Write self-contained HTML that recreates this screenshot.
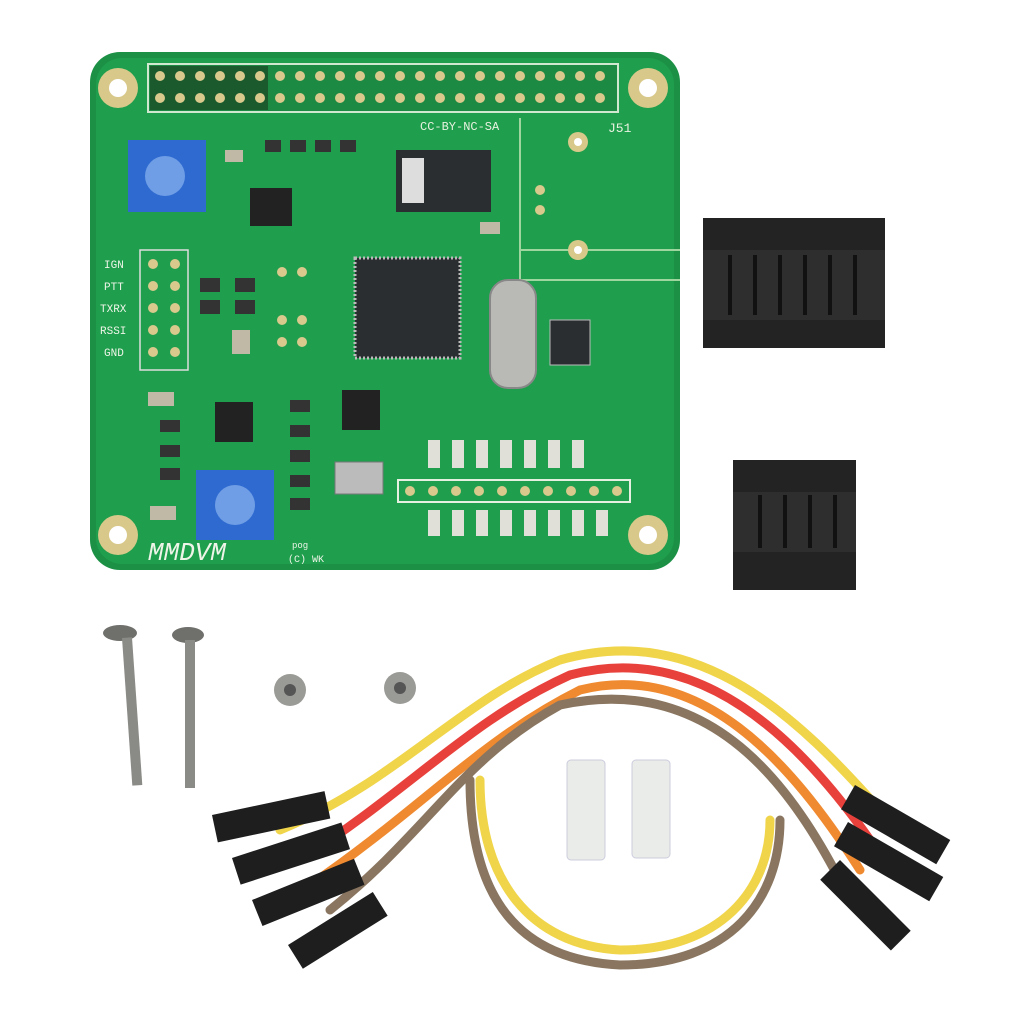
<!DOCTYPE html>
<html><head><meta charset="utf-8"><style>
html,body{margin:0;padding:0;background:#fff;}
svg{display:block;}
text{font-family:"Liberation Mono",monospace;}
</style></head><body>
<svg width="1024" height="1024" viewBox="0 0 1024 1024" xmlns="http://www.w3.org/2000/svg">
<rect width="1024" height="1024" fill="#fff"/>
<rect x="90" y="52" width="590" height="518" rx="30" fill="#1c9146"/>
<rect x="96" y="58" width="578" height="506" rx="26" fill="#1f9e4d"/>
<g fill="#d8c98a"><circle cx="118" cy="88" r="20"/><circle cx="648" cy="88" r="20"/><circle cx="118" cy="535" r="20"/><circle cx="648" cy="535" r="20"/></g>
<g fill="#fff"><circle cx="118" cy="88" r="9"/><circle cx="648" cy="88" r="9"/><circle cx="118" cy="535" r="9"/><circle cx="648" cy="535" r="9"/></g>
<rect x="148" y="64" width="470" height="48" fill="#1c8a43" stroke="#cfe8cf" stroke-width="2"/>
<rect x="150" y="66" width="118" height="44" fill="#1a5a2c"/>
<g fill="#d9c98c">
<circle cx="160" cy="76" r="5"/><circle cx="180" cy="76" r="5"/><circle cx="200" cy="76" r="5"/><circle cx="220" cy="76" r="5"/><circle cx="240" cy="76" r="5"/><circle cx="260" cy="76" r="5"/><circle cx="280" cy="76" r="5"/><circle cx="300" cy="76" r="5"/><circle cx="320" cy="76" r="5"/><circle cx="340" cy="76" r="5"/><circle cx="360" cy="76" r="5"/><circle cx="380" cy="76" r="5"/><circle cx="400" cy="76" r="5"/><circle cx="420" cy="76" r="5"/><circle cx="440" cy="76" r="5"/><circle cx="460" cy="76" r="5"/><circle cx="480" cy="76" r="5"/><circle cx="500" cy="76" r="5"/><circle cx="520" cy="76" r="5"/><circle cx="540" cy="76" r="5"/><circle cx="560" cy="76" r="5"/><circle cx="580" cy="76" r="5"/><circle cx="600" cy="76" r="5"/>
<circle cx="160" cy="98" r="5"/><circle cx="180" cy="98" r="5"/><circle cx="200" cy="98" r="5"/><circle cx="220" cy="98" r="5"/><circle cx="240" cy="98" r="5"/><circle cx="260" cy="98" r="5"/><circle cx="280" cy="98" r="5"/><circle cx="300" cy="98" r="5"/><circle cx="320" cy="98" r="5"/><circle cx="340" cy="98" r="5"/><circle cx="360" cy="98" r="5"/><circle cx="380" cy="98" r="5"/><circle cx="400" cy="98" r="5"/><circle cx="420" cy="98" r="5"/><circle cx="440" cy="98" r="5"/><circle cx="460" cy="98" r="5"/><circle cx="480" cy="98" r="5"/><circle cx="500" cy="98" r="5"/><circle cx="520" cy="98" r="5"/><circle cx="540" cy="98" r="5"/><circle cx="560" cy="98" r="5"/><circle cx="580" cy="98" r="5"/><circle cx="600" cy="98" r="5"/>
</g>
<text x="420" y="130" font-size="12" fill="#e8f2e0">CC-BY-NC-SA</text>
<text x="608" y="132" font-size="13" fill="#e8f2e0">J51</text>
<path d="M520 118 V280 H680 M520 250 H680" stroke="#9fd6a0" stroke-width="2" fill="none"/>
<circle cx="578" cy="142" r="10" fill="#d8c98a"/><circle cx="578" cy="142" r="4" fill="#fff"/>
<circle cx="578" cy="250" r="10" fill="#d8c98a"/><circle cx="578" cy="250" r="4" fill="#fff"/>
<rect x="128" y="140" width="78" height="72" fill="#2f6ad0"/><circle cx="165" cy="176" r="20" fill="#6f9ee6"/>
<rect x="196" y="470" width="78" height="70" fill="#2f6ad0"/><circle cx="235" cy="505" r="20" fill="#6f9ee6"/>
<rect x="355" y="258" width="105" height="100" fill="#2a2e30" stroke="#bbb" stroke-width="3" stroke-dasharray="2 2"/>
<rect x="490" y="280" width="46" height="108" rx="18" fill="#b9b9b6" stroke="#888" stroke-width="2"/>
<rect x="396" y="150" width="95" height="62" fill="#2a2e30"/><rect x="402" y="158" width="22" height="45" fill="#ddd"/>
<rect x="250" y="188" width="42" height="38" fill="#222"/>
<rect x="215" y="402" width="38" height="40" fill="#222"/>
<rect x="342" y="390" width="38" height="40" fill="#222"/>
<rect x="335" y="462" width="48" height="32" fill="#bbb" stroke="#777"/>
<rect x="550" y="320" width="40" height="45" fill="#2a2e30" stroke="#bbb"/>
<g fill="#333">
<rect x="265" y="140" width="16" height="12"/><rect x="290" y="140" width="16" height="12"/><rect x="315" y="140" width="16" height="12"/><rect x="340" y="140" width="16" height="12"/>
<rect x="200" y="278" width="20" height="14"/><rect x="235" y="278" width="20" height="14"/>
<rect x="200" y="300" width="20" height="14"/><rect x="235" y="300" width="20" height="14"/>
<rect x="160" y="420" width="20" height="12"/><rect x="160" y="445" width="20" height="12"/><rect x="160" y="468" width="20" height="12"/>
<rect x="290" y="400" width="20" height="12"/><rect x="290" y="425" width="20" height="12"/><rect x="290" y="450" width="20" height="12"/><rect x="290" y="475" width="20" height="12"/><rect x="290" y="498" width="20" height="12"/>
</g>
<g fill="#bfb9a5"><rect x="225" y="150" width="18" height="12"/><rect x="232" y="330" width="18" height="24"/><rect x="148" y="392" width="26" height="14"/><rect x="150" y="506" width="26" height="14"/><rect x="480" y="222" width="20" height="12"/></g>
<rect x="140" y="250" width="48" height="120" fill="none" stroke="#ddd" stroke-width="1.5"/>
<g fill="#d9c98c">
<circle cx="153" cy="264" r="5"/><circle cx="175" cy="264" r="5"/><circle cx="153" cy="286" r="5"/><circle cx="175" cy="286" r="5"/><circle cx="153" cy="308" r="5"/><circle cx="175" cy="308" r="5"/><circle cx="153" cy="330" r="5"/><circle cx="175" cy="330" r="5"/><circle cx="153" cy="352" r="5"/><circle cx="175" cy="352" r="5"/>
<circle cx="282" cy="272" r="5"/><circle cx="302" cy="272" r="5"/><circle cx="282" cy="320" r="5"/><circle cx="302" cy="320" r="5"/><circle cx="282" cy="342" r="5"/><circle cx="302" cy="342" r="5"/>
<circle cx="540" cy="190" r="5"/><circle cx="540" cy="210" r="5"/>
</g>
<g font-size="11" fill="#eef5e8"><text x="104" y="268">IGN</text><text x="104" y="290">PTT</text><text x="100" y="312">TXRX</text><text x="100" y="334">RSSI</text><text x="104" y="356">GND</text></g>
<rect x="398" y="480" width="232" height="22" fill="none" stroke="#e6f0e0" stroke-width="2"/>
<g fill="#d9c98c"><circle cx="410" cy="491" r="5"/><circle cx="433" cy="491" r="5"/><circle cx="456" cy="491" r="5"/><circle cx="479" cy="491" r="5"/><circle cx="502" cy="491" r="5"/><circle cx="525" cy="491" r="5"/><circle cx="548" cy="491" r="5"/><circle cx="571" cy="491" r="5"/><circle cx="594" cy="491" r="5"/><circle cx="617" cy="491" r="5"/></g>
<g fill="#e0e0d8"><rect x="428" y="440" width="12" height="28"/><rect x="452" y="440" width="12" height="28"/><rect x="476" y="440" width="12" height="28"/><rect x="500" y="440" width="12" height="28"/><rect x="524" y="440" width="12" height="28"/><rect x="548" y="440" width="12" height="28"/><rect x="572" y="440" width="12" height="28"/>
<rect x="428" y="510" width="12" height="26"/><rect x="452" y="510" width="12" height="26"/><rect x="476" y="510" width="12" height="26"/><rect x="500" y="510" width="12" height="26"/><rect x="524" y="510" width="12" height="26"/><rect x="548" y="510" width="12" height="26"/><rect x="572" y="510" width="12" height="26"/><rect x="596" y="510" width="12" height="26"/></g>
<text x="148" y="560" font-size="26" fill="#eef5e8" font-style="italic" font-family="Liberation Sans">MMDVM</text>
<text x="292" y="548" font-size="9" fill="#eef5e8">pog</text><text x="288" y="562" font-size="10" fill="#eef5e8">(C) WK</text>
<rect x="703" y="218" width="182" height="130" fill="#232323"/>
<rect x="703" y="250" width="182" height="70" fill="#2e2e2e"/>
<g stroke="#111" stroke-width="4"><line x1="730" y1="255" x2="730" y2="315"/><line x1="755" y1="255" x2="755" y2="315"/><line x1="780" y1="255" x2="780" y2="315"/><line x1="805" y1="255" x2="805" y2="315"/><line x1="830" y1="255" x2="830" y2="315"/><line x1="855" y1="255" x2="855" y2="315"/></g>
<rect x="733" y="460" width="123" height="130" fill="#232323"/>
<rect x="733" y="492" width="123" height="60" fill="#2e2e2e"/>
<g stroke="#111" stroke-width="4"><line x1="760" y1="495" x2="760" y2="548"/><line x1="785" y1="495" x2="785" y2="548"/><line x1="810" y1="495" x2="810" y2="548"/><line x1="835" y1="495" x2="835" y2="548"/></g>
<ellipse cx="120" cy="633" rx="17" ry="8" fill="#6f6f6c"/><rect x="122" y="638" width="10" height="148" fill="#8a8a86" transform="rotate(-4 122 638)"/>
<ellipse cx="188" cy="635" rx="16" ry="8" fill="#6f6f6c"/><rect x="185" y="640" width="10" height="148" fill="#8a8a86"/>
<circle cx="290" cy="690" r="16" fill="#9a9a96"/><circle cx="290" cy="690" r="6" fill="#555"/>
<circle cx="400" cy="688" r="16" fill="#9a9a96"/><circle cx="400" cy="688" r="6" fill="#555"/>
<rect x="567" y="760" width="38" height="100" rx="4" fill="#e9ece8" stroke="#ccd" stroke-width="1"/>
<rect x="632" y="760" width="38" height="98" rx="4" fill="#e9ece8" stroke="#ccd" stroke-width="1"/>
<g fill="none" stroke-width="9" stroke-linecap="round">
<path d="M280 830 C400 780 460 700 560 660 C700 620 800 720 880 810" stroke="#f0d54a"/>
<path d="M300 860 C410 790 470 720 570 675 C700 640 800 740 870 840" stroke="#e8413c"/>
<path d="M310 885 C420 810 480 740 580 690 C700 660 790 760 860 870" stroke="#f08a30"/>
<path d="M330 910 C430 830 460 760 560 705 C720 670 800 800 850 900" stroke="#8a7660"/>
<path d="M470 780 C470 900 520 960 620 965 C730 965 780 900 780 820" stroke="#8a7660"/>
<path d="M480 780 C480 880 530 945 620 950 C720 950 770 890 770 820" stroke="#f0d54a"/>
</g>
<g fill="#1e1e1e">
<rect x="212" y="815" width="115" height="28" transform="rotate(-12 212 815)"/>
<rect x="232" y="858" width="115" height="28" transform="rotate(-18 232 858)"/>
<rect x="252" y="900" width="110" height="28" transform="rotate(-22 252 900)"/>
<rect x="288" y="945" width="100" height="28" transform="rotate(-32 288 945)"/>
<rect x="855" y="785" width="110" height="28" transform="rotate(30 855 785)"/>
<rect x="848" y="822" width="110" height="28" transform="rotate(30 848 822)"/>
<rect x="840" y="860" width="100" height="28" transform="rotate(45 840 860)"/>
</g>
</svg>
</body></html>
